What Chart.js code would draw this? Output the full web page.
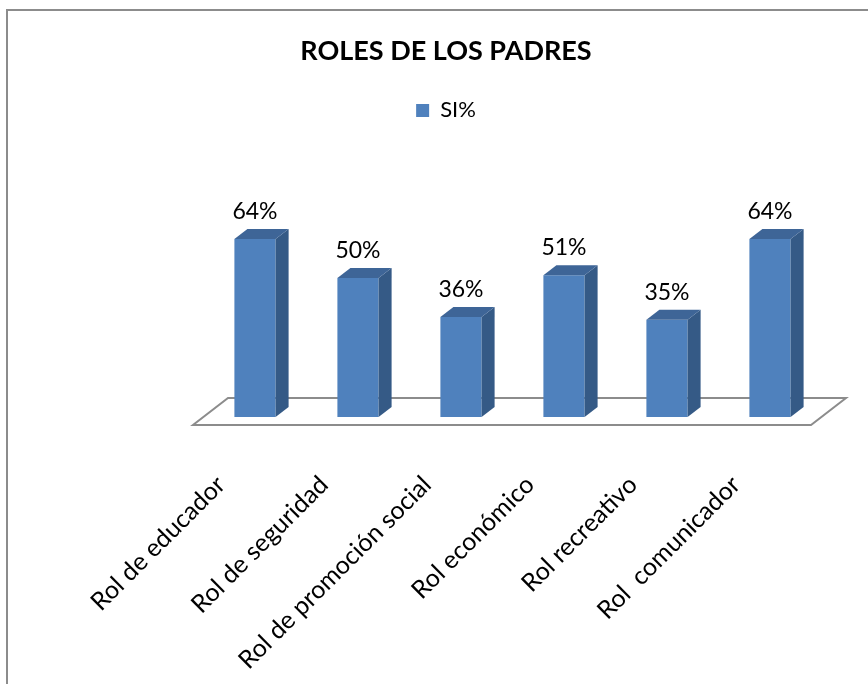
<!DOCTYPE html>
<html lang="es">
<head>
<meta charset="UTF-8">
<title>Roles de los padres</title>
<style>
    body {
        margin: 0;
        background-color: #ffffff;
        overflow: hidden;
    }

    #frame {
        position: absolute;
        left: 6px;
        top: 9px;
        width: 1000px;
        height: 1000px;
        border-left: 2px solid #8c8c8c;
        border-top: 2px solid #8c8c8c;
    }

    #chart-container {
        position: absolute;
        left: 0;
        top: 0;
    }
</style>
</head>
<body>
<div id="frame"></div>
<div id="chart-container">
    <canvas id="myChart" width="892" height="684" style="width:892px;height:684px"></canvas>
</div>
<script src="https://cdn.jsdelivr.net/npm/chart.js"></script>
<script>
    //data of the chart
    let categories = ['Rol de educador', 'Rol de seguridad', 'Rol de promoción social', 'Rol económico', 'Rol recreativo', 'Rol  comunicador'];
    let siValues = [64, 50, 36, 51, 35, 64];
    let seriesName = 'SI%';
    let chartTitle = 'ROLES DE LOS PADRES';

    //colours of the 3d bars
    let frontColor = '#4f81bd';
    let sideColor = '#355a86';
    let topColor = '#3e6597';

    let barDepth = { dx: 13, dy: 10 };          //depth of one bar
    let floorFront = { dx: -10.5, dy: 8 };      //front edge of the floor, seen from the bar plane
    let floorBack = { dx: 24.5, dy: -19 };      //back edge of the floor

    //floor plane below the bars
    const floorPlugin = {
        id: 'floor',
        beforeDatasetsDraw(chart) {
            const ctx = chart.ctx;
            const area = chart.chartArea;
            const base = chart.scales.y.getPixelForValue(0);
            ctx.save();
            ctx.strokeStyle = '#8c8c8c';
            ctx.lineWidth = 2;
            ctx.beginPath();
            ctx.moveTo(area.left + floorFront.dx, base + floorFront.dy);
            ctx.lineTo(area.right + floorFront.dx, base + floorFront.dy);
            ctx.lineTo(area.right + floorBack.dx, base + floorBack.dy);
            ctx.lineTo(area.left + floorBack.dx, base + floorBack.dy);
            ctx.closePath();
            ctx.fillStyle = '#ffffff';
            ctx.fill();
            ctx.stroke();
            ctx.restore();
        }
    };

    //side and top faces of the bars plus the value labels
    const bar3dPlugin = {
        id: 'bar3d',
        afterDatasetsDraw(chart) {
            const ctx = chart.ctx;
            const meta = chart.getDatasetMeta(0);
            ctx.save();
            meta.data.forEach((bar, i) => {
                const left = bar.x - bar.width / 2;
                const right = bar.x + bar.width / 2;
                const dx = barDepth.dx, dy = barDepth.dy;

                ctx.fillStyle = sideColor;
                ctx.beginPath();
                ctx.moveTo(right, bar.y);
                ctx.lineTo(right + dx, bar.y - dy);
                ctx.lineTo(right + dx, bar.base - dy);
                ctx.lineTo(right, bar.base);
                ctx.closePath();
                ctx.fill();

                ctx.fillStyle = topColor;
                ctx.beginPath();
                ctx.moveTo(left, bar.y);
                ctx.lineTo(left + dx, bar.y - dy);
                ctx.lineTo(right + dx, bar.y - dy);
                ctx.lineTo(right, bar.y);
                ctx.closePath();
                ctx.fill();

                ctx.fillStyle = '#000000';
                ctx.font = '23px Lato';
                ctx.textAlign = 'center';
                ctx.textBaseline = 'alphabetic';
                ctx.fillText(siValues[i] + '%', bar.x, bar.y - 20);
            });
            ctx.restore();
        }
    };

    const data = {
        labels: categories,
        datasets: [{
            label: seriesName,
            data: siValues,
            backgroundColor: frontColor,
            borderWidth: 0,
            barPercentage: 0.4,
            categoryPercentage: 1,
            yAxisID: 'y'
        }]
    };

    //hidden axes only used to keep space left and right of the plot
    const hiddenAxis = (position, width) => ({
        position: position,
        display: true,
        min: 0,
        max: 102.7,
        grid: { display: false },
        border: { display: false },
        ticks: { display: false },
        afterFit(scale) {
            scale.width = width;
        }
    });

    const config = {
        type: 'bar',
        data,
        options: {
            responsive: false,
            animation: false,
            layout: {
                padding: 0
            },
            scales: {
                y: hiddenAxis('left', 203.5),
                y2: hiddenAxis('right', 70.5),
                x: {
                    grid: { display: false },
                    border: { display: false },
                    ticks: {
                        color: '#000000',
                        font: { family: 'Lato', size: 25 },
                        minRotation: 45,
                        maxRotation: 45,
                        autoSkip: false,
                        padding: 45,
                        labelOffset: -34
                    },
                    afterFit(scale) {
                        scale.height = 267;         //keeps the bar base where the floor is
                    }
                }
            },
            plugins: {
                title: {
                    display: true,
                    text: chartTitle,
                    color: '#000000',
                    font: { family: 'Lato', size: 27, weight: 'bold' },
                    padding: { top: 35, bottom: 22 }
                },
                legend: {
                    display: true,
                    labels: {
                        color: '#000000',
                        font: { family: 'Lato', size: 22 },
                        boxWidth: 13,
                        boxHeight: 13,
                        padding: 10
                    }
                },
                tooltip: { enabled: false }
            }
        },
        plugins: [floorPlugin, bar3dPlugin]
    };

    const myChart = new Chart(document.getElementById('myChart'), config);
</script>
</body>
</html>
